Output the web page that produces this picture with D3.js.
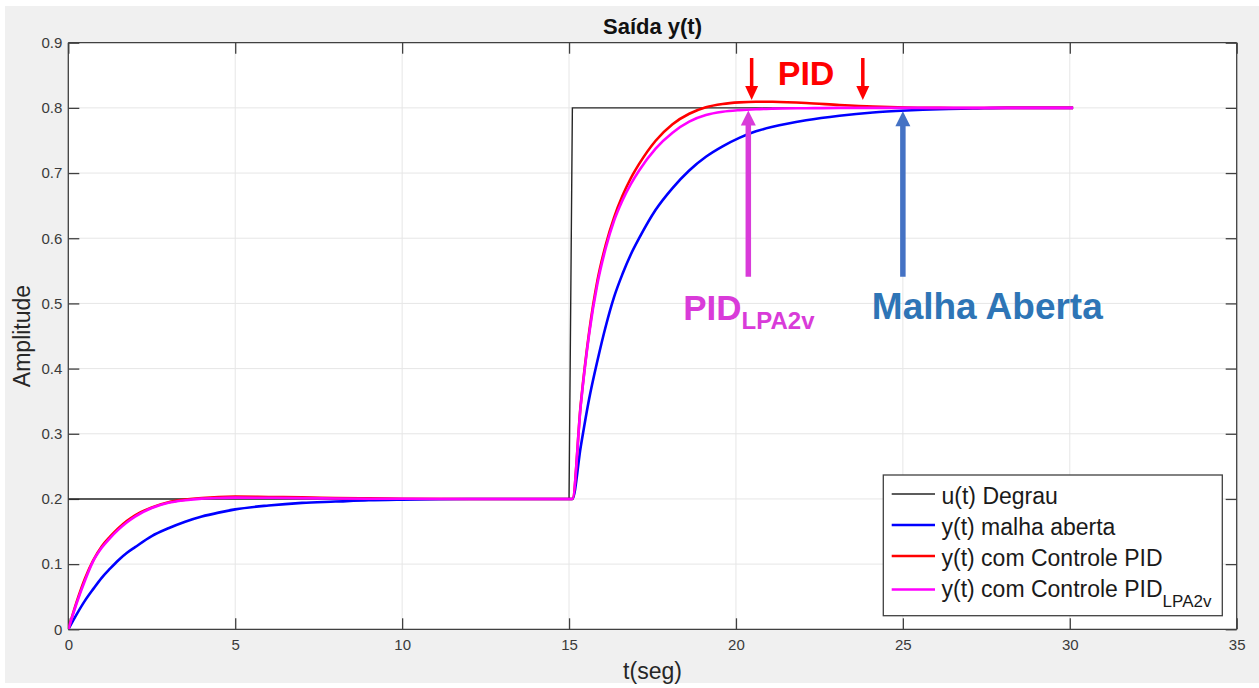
<!DOCTYPE html>
<html>
<head>
<meta charset="utf-8">
<script src="https://cdn.jsdelivr.net/npm/d3@7"></script>
<style>
  html, body { margin: 0; padding: 0; background: #ffffff; }
  svg { display: block; font-family: "Liberation Sans", Arial, Helvetica, sans-serif; }
</style>
</head>
<body>
<svg id="chart" width="1259" height="688"></svg>
<script>
// ---------------- data ----------------
const timeS = [0,0.25,0.5,0.75,1,1.25,1.5,1.75,2,2.5,3,3.5,4,4.5,5,6,7,8,9,10,12,15.1,
               15.35,15.6,15.85,16.1,16.35,16.6,16.85,17.1,17.6,18.1,18.6,19.1,19.6,20.1,20.6,21.1,22.1,23.1,24.1,25.1,26.1,27.1,28.1,30.1];
const openLoop = [0,0.023,0.044,0.062,0.079,0.093,0.106,0.117,0.126,0.143,0.155,0.165,0.173,0.179,0.184,0.190,0.194,0.196,0.198,0.199,0.2,0.2,
                  0.28,0.353,0.412,0.465,0.51,0.545,0.575,0.600,0.644,0.677,0.704,0.725,0.741,0.754,0.764,0.771,0.781,0.788,0.793,0.796,0.798,0.799,0.8,0.8];
const pidValues = [0,0.042,0.078,0.106,0.127,0.142,0.155,0.166,0.175,0.187,0.195,0.199,0.2015,0.203,0.2035,0.203,0.2025,0.2015,0.2008,0.2003,0.2,0.2,
                   0.345,0.455,0.535,0.59,0.632,0.665,0.692,0.714,0.75,0.775,0.791,0.801,0.806,0.8085,0.8095,0.8093,0.8075,0.8045,0.802,0.8005,0.8,0.7998,0.8,0.8];
const pidLpaValues = [0,0.04,0.075,0.105,0.125,0.14,0.153,0.164,0.173,0.186,0.194,0.198,0.2005,0.2015,0.202,0.2018,0.2012,0.2007,0.2004,0.2002,0.2,0.2,
                      0.343,0.452,0.53,0.585,0.627,0.658,0.683,0.704,0.738,0.762,0.779,0.789,0.794,0.7965,0.798,0.7988,0.7995,0.8,0.8,0.8,0.8,0.8,0.8,0.8];
const stepTime = [0, 15, 15.1, 30.1];
const stepValues = [0.2, 0.2, 0.8, 0.8];

const xTicks = [0,5,10,15,20,25,30,35];
const yTicks = [0,0.1,0.2,0.3,0.4,0.5,0.6,0.7,0.8,0.9];
const legendLabels = ["u(t) Degrau", "y(t) malha aberta", "y(t) com Controle PID", "y(t) com Controle PID"];
const legendSubs = ["", "", "", "LPA2v"];
const titleText = "Saída y(t)";
const xLabel = "t(seg)";
const yLabel = "Amplitude";

// ---------------- layout ----------------
const svg = d3.select("#chart");
const W = 1259, H = 688;
const plot = { left: 68.3, right: 1236.7, top: 42.7, bottom: 629.3 };
const x = d3.scaleLinear().domain([0, 35]).range([plot.left, plot.right]);
const y = d3.scaleLinear().domain([0, 0.9]).range([plot.bottom, plot.top]);

const colors = { step: "#262626", open: "#0000ff", pid: "#ff0000", lpa: "#ff00ff" };
const axisColor = "#404040";

// figure background
svg.append("rect").attr("x", 0).attr("y", 0).attr("width", W).attr("height", H).attr("fill", "#ffffff");
svg.append("rect").attr("x", 5).attr("y", 6).attr("width", W - 5).attr("height", 677).attr("fill", "#f0f0f0");

// axes background
svg.append("rect")
  .attr("x", plot.left).attr("y", plot.top)
  .attr("width", plot.right - plot.left).attr("height", plot.bottom - plot.top)
  .attr("fill", "#ffffff");

// grid
const grid = svg.append("g");
grid.selectAll("line.gx").data(xTicks).join("line")
  .attr("x1", d => x(d)).attr("x2", d => x(d))
  .attr("y1", plot.top).attr("y2", plot.bottom)
  .attr("stroke", "#e6e6e6").attr("stroke-width", 1);
grid.selectAll("line.gy").data(yTicks).join("line")
  .attr("x1", plot.left).attr("x2", plot.right)
  .attr("y1", d => y(d)).attr("y2", d => y(d))
  .attr("stroke", "#e6e6e6").attr("stroke-width", 1);

// axes (inward ticks, box on)
const tickLen = 11;
const fmtY = d => (d === 0 ? "0" : d3.format(".1f")(d));
const axB = svg.append("g").attr("transform", `translate(0,${plot.bottom})`)
  .call(d3.axisBottom(x).tickValues(xTicks).tickSize(-tickLen).tickPadding(10).tickFormat(d3.format("d")));
const axT = svg.append("g").attr("transform", `translate(0,${plot.top})`)
  .call(d3.axisTop(x).tickValues(xTicks).tickSize(-tickLen).tickFormat(""));
const axL = svg.append("g").attr("transform", `translate(${plot.left},0)`)
  .call(d3.axisLeft(y).tickValues(yTicks).tickSize(-tickLen).tickPadding(6).tickFormat(fmtY));
const axR = svg.append("g").attr("transform", `translate(${plot.right},0)`)
  .call(d3.axisRight(y).tickValues(yTicks).tickSize(-tickLen).tickFormat(""));
[axB, axT, axL, axR].forEach(a => {
  a.attr("font-size", null).attr("font-family", null);
  a.select(".domain").attr("stroke", axisColor).attr("stroke-width", 1.3);
  a.selectAll(".tick line").attr("stroke", axisColor).attr("stroke-width", 1.3);
  a.selectAll(".tick text").attr("fill", "#3a3a3a")
   .style("font-size", "15px").style("font-family", "'Liberation Sans', Arial, sans-serif");
});
[axB, axT].forEach(a => a.select(".domain").attr("d", `M${plot.left},0H${plot.right}`));
[axL, axR].forEach(a => a.select(".domain").attr("d", `M0,${plot.top}V${plot.bottom}`));

// series
svg.append("clipPath").attr("id", "clipPlot").append("rect")
  .attr("x", plot.left).attr("y", plot.top).attr("width", plot.right - plot.left).attr("height", plot.bottom - plot.top);
const gLines = svg.append("g").attr("clip-path", "url(#clipPlot)");

const stepData = stepTime.map((t, i) => ({ t, v: stepValues[i] }));
const lineLin = d3.line().x(d => x(d.t)).y(d => y(d.v));
const lineSmooth = d3.line().x(d => x(d.t)).y(d => y(d.v)).curve(d3.curveMonotoneX);

gLines.append("path").datum(stepData).attr("d", lineLin)
  .attr("fill", "none").attr("stroke", colors.step).attr("stroke-width", 1.4);

const seriesList = [
  { vals: openLoop, color: colors.open },
  { vals: pidValues, color: colors.pid },
  { vals: pidLpaValues, color: colors.lpa }
];
seriesList.forEach(s => {
  const data = timeS.map((t, i) => ({ t, v: s.vals[i] }));
  gLines.append("path").datum(data).attr("d", lineSmooth)
    .attr("fill", "none").attr("stroke", s.color).attr("stroke-width", 2.6)
    .attr("stroke-linejoin", "round");
});

// ---------------- annotations ----------------
function downArrow(tx, vTop, vTip, color, shaftW, headW, headH) {
  const cx = x(tx), yt = y(vTop), yp = y(vTip);
  svg.append("line").attr("x1", cx).attr("x2", cx).attr("y1", yt).attr("y2", yp - headH + 1)
    .attr("stroke", color).attr("stroke-width", shaftW);
  svg.append("path").attr("d", `M${cx - headW / 2},${yp - headH}L${cx + headW / 2},${yp - headH}L${cx},${yp}Z`).attr("fill", color);
}
function upArrow(tx, vTip, vBottom, color, shaftW, headW, headH) {
  const cx = x(tx), yp = y(vTip), yb = y(vBottom);
  svg.append("line").attr("x1", cx).attr("x2", cx).attr("y1", yp + headH - 1).attr("y2", yb)
    .attr("stroke", color).attr("stroke-width", shaftW);
  svg.append("path").attr("d", `M${cx - headW / 2},${yp + headH}L${cx + headW / 2},${yp + headH}L${cx},${yp}Z`).attr("fill", color);
}
downArrow(20.47, 0.8765, 0.812, "#ff0000", 3.5, 13, 14);
downArrow(23.80, 0.8765, 0.812, "#ff0000", 3.5, 13, 14);
upArrow(20.37, 0.796, 0.541, "#d93bd9", 5.5, 15, 15);
upArrow(25.00, 0.795, 0.541, "#4472c4", 5.5, 15, 15);

svg.append("text").attr("x", x(22.1)).attr("y", y(0.835)).attr("text-anchor", "middle")
  .attr("font-size", 34).attr("font-weight", "bold").attr("fill", "#ff0000").text("PID");

const lpaText = svg.append("text").attr("x", x(18.42)).attr("y", y(0.4745))
  .attr("font-weight", "bold").attr("fill", "#d93bd9");
lpaText.append("tspan").attr("font-size", 35).text("PID");
lpaText.append("tspan").attr("font-size", 24).attr("dy", 9).text("LPA2v");

svg.append("text").attr("x", x(24.07)).attr("y", y(0.4756))
  .attr("font-size", 37).attr("font-weight", "bold").attr("fill", "#2e75b6").text("Malha Aberta");

// ---------------- legend ----------------
const leg = { x: 883.3, y: 475, w: 339, h: 140.7 };
svg.append("rect").attr("x", leg.x).attr("y", leg.y).attr("width", leg.w).attr("height", leg.h)
  .attr("fill", "#ffffff").attr("stroke", axisColor).attr("stroke-width", 1.3);
const legColors = [colors.step, colors.open, colors.pid, colors.lpa];
const legWidths = [1.4, 2.6, 2.6, 2.6];
const rowLineY = [494, 525, 556, 589.5];
const rowBase = [504, 535, 566, 597];
legendLabels.forEach((lab, i) => {
  svg.append("line").attr("x1", 891.7).attr("x2", 935).attr("y1", rowLineY[i]).attr("y2", rowLineY[i])
    .attr("stroke", legColors[i]).attr("stroke-width", legWidths[i]);
  const t = svg.append("text").attr("x", 941.5).attr("y", rowBase[i]).attr("fill", "#1a1a1a");
  t.append("tspan").attr("font-size", 23).text(lab);
  if (legendSubs[i]) t.append("tspan").attr("font-size", 17).attr("dy", 10).text(legendSubs[i]);
});

// ---------------- titles ----------------
svg.append("text").attr("x", (plot.left + plot.right) / 2).attr("y", 34).attr("text-anchor", "middle")
  .attr("font-size", 22).attr("font-weight", "bold").attr("fill", "#111").text(titleText);
svg.append("text").attr("x", (plot.left + plot.right) / 2).attr("y", 679).attr("text-anchor", "middle")
  .attr("font-size", 23).attr("fill", "#262626").text(xLabel);
svg.append("text").attr("transform", `translate(30,${(plot.top + plot.bottom) / 2}) rotate(-90)`)
  .attr("text-anchor", "middle").attr("font-size", 23).attr("fill", "#262626").text(yLabel);
</script>
</body>
</html>
